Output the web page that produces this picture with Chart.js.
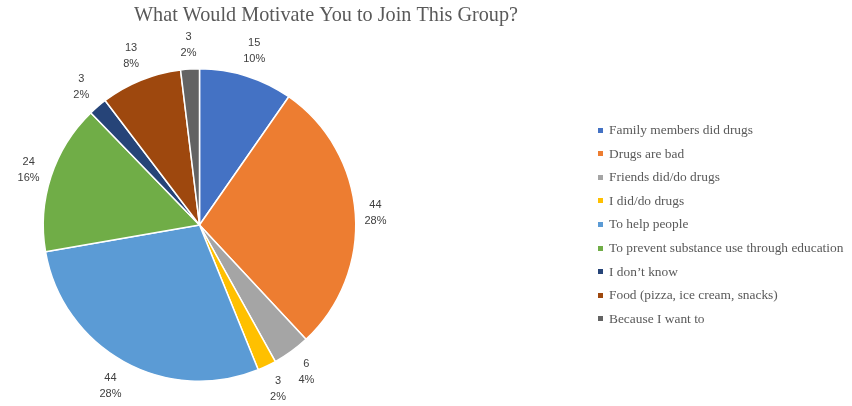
<!DOCTYPE html>
<html>
<head>
<meta charset="utf-8">
<title>What Would Motivate You to Join This Group?</title>
<script src="https://cdn.jsdelivr.net/npm/chart.js@4"></script>
<style>
    html, body { margin: 0; padding: 0; background: #ffffff; }
    #wrap { position: relative; width: 852px; height: 406px; }
</style>
</head>
<body>
<div id="wrap"><canvas id="pie"></canvas></div>
<script>
// Survey answers and counts
const reasons = [
    'Family members did drugs',
    'Drugs are bad',
    'Friends did/do drugs',
    'I did/do drugs',
    'To help people',
    'To prevent substance use through education',
    'I don\u2019t know',
    'Food (pizza, ice cream, snacks)',
    'Because I want to'
];
const counts = [15, 44, 6, 3, 44, 24, 3, 13, 3];
const shares = ['10%', '28%', '4%', '2%', '28%', '16%', '2%', '8%', '2%'];
const sliceColors = ['#4472C4', '#ED7D31', '#A5A5A5', '#FFC000', '#5B9BD5', '#70AD47', '#264478', '#9E480E', '#636363'];

const chartTitle = 'What Would Motivate You to Join This Group?';

// value + percent labels just outside each slice
const outsideLabels = {
    id: 'outsideLabels',
    afterDatasetsDraw(chart) {
        const ctx = chart.ctx;
        const meta = chart.getDatasetMeta(0);
        ctx.save();
        ctx.font = '11px "Liberation Sans", Arial, sans-serif';
        ctx.fillStyle = '#404040';
        ctx.textAlign = 'center';
        ctx.textBaseline = 'middle';
        meta.data.forEach((arc, i) => {
            const p = arc.getProps(['x', 'y', 'startAngle', 'endAngle', 'outerRadius'], true);
            const mid = (p.startAngle + p.endAngle) / 2;
            const lines = [String(counts[i]), shares[i]];
            const w = Math.max(...lines.map(t => ctx.measureText(t).width));
            const h = 32;
            const half = Math.abs(Math.cos(mid)) * w / 2 + Math.abs(Math.sin(mid)) * h / 2;
            const d = p.outerRadius + 8 + half;
            const lx = p.x + Math.cos(mid) * d;
            const ly = p.y + Math.sin(mid) * d;
            ctx.fillText(lines[0], lx, ly - 8);
            ctx.fillText(lines[1], lx, ly + 8);
        });
        ctx.restore();
    }
};

// title and legend on the right
const sideText = {
    id: 'sideText',
    afterDraw(chart) {
        const ctx = chart.ctx;
        ctx.save();
        ctx.fillStyle = '#595959';
        ctx.font = '21px "Liberation Serif", "Times New Roman", serif';
        ctx.textAlign = 'center';
        ctx.textBaseline = 'alphabetic';
        ctx.fillText(chartTitle, 326, 21, 384);

        ctx.font = '13.4px "Liberation Serif", "Times New Roman", serif';
        ctx.textAlign = 'left';
        ctx.textBaseline = 'middle';
        chart.data.labels.forEach((label, i) => {
            const y = 130.5 + i * 23.6;
            ctx.fillStyle = sliceColors[i];
            ctx.fillRect(598, Math.round(y) - 3, 5, 5);
            ctx.fillStyle = '#595959';
            ctx.fillText(label, 609, y);
        });
        ctx.restore();
    }
};

new Chart(document.getElementById('pie'), {
    type: 'pie',
    data: {
        labels: reasons,
        datasets: [{
            data: counts,
            backgroundColor: sliceColors,
            borderColor: '#ffffff',
            borderWidth: 1.5
        }]
    },
    options: {
        responsive: true,
        maintainAspectRatio: false,
        animation: false,
        layout: {
            padding: { left: 42, top: 68, right: 495, bottom: 24 }
        },
        plugins: {
            legend: { display: false },
            title: { display: false },
            tooltip: { enabled: false }
        }
    },
    plugins: [outsideLabels, sideText]
});
</script>
</body>
</html>
